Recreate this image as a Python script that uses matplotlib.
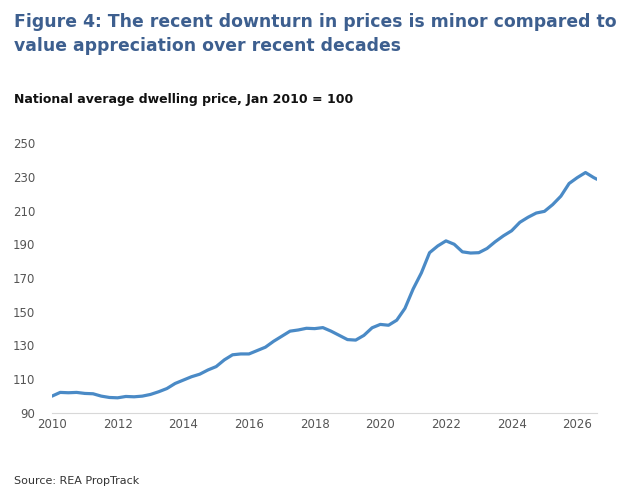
import matplotlib
matplotlib.use("Agg")
import matplotlib.pyplot as plt

years = [2010.0, 2010.25, 2010.5, 2010.75, 2011.0, 2011.25, 2011.5, 2011.75, 2012.0,
         2012.25, 2012.5, 2012.75, 2013.0, 2013.25, 2013.5, 2013.75, 2014.0,
         2014.25, 2014.5, 2014.75, 2015.0, 2015.25, 2015.5, 2015.75, 2016.0,
         2016.25, 2016.5, 2016.75, 2017.0, 2017.25, 2017.5, 2017.75, 2018.0,
         2018.25, 2018.5, 2018.75, 2019.0, 2019.25, 2019.5, 2019.75, 2020.0,
         2020.25, 2020.5, 2020.75, 2021.0, 2021.25, 2021.5, 2021.75, 2022.0,
         2022.25, 2022.5, 2022.75, 2023.0, 2023.25, 2023.5, 2023.75, 2024.0,
         2024.25, 2024.5, 2024.75, 2025.0, 2025.25, 2025.5, 2025.75, 2026.0,
         2026.25, 2026.5, 2026.6]
index = [100.0, 102.2, 102.0, 102.2, 101.6, 101.4, 100.0, 99.2, 99.0,
         99.8, 99.6, 100.0, 101.0, 102.6, 104.5, 107.5, 109.5,
         111.5, 113.0, 115.5, 117.5, 121.5, 124.5, 125.0, 125.0,
         127.0, 129.0, 132.5, 135.5, 138.5, 139.2, 140.2, 140.0,
         140.6, 138.5, 136.0, 133.5, 133.2, 136.0, 140.5, 142.5,
         142.0, 145.0, 152.0, 163.5, 173.0, 185.0, 189.0, 192.0,
         190.0, 185.5, 184.8, 185.0, 187.5, 191.5, 195.0, 198.0,
         203.0, 206.0, 208.5, 209.5, 213.5, 218.5, 226.0, 229.5,
         232.5, 229.5, 228.5]

title = "Figure 4: The recent downturn in prices is minor compared to\nvalue appreciation over recent decades"
subtitle = "National average dwelling price, Jan 2010 = 100"
source = "Source: REA PropTrack"

fig = plt.figure(figsize=(6.43, 5.0), dpi=100)
ax = fig.add_axes([52 / 643, 1 - 413 / 500, 545 / 643, 270 / 500])

ax.plot(years, index, color="#4a8ac6", lw=2.3, solid_capstyle="round")
ax.set_xlim(2010, 2026.6)
ax.set_ylim(90, 250)
ax.set_yticks(range(90, 251, 20))
ax.set_xticks(range(2010, 2027, 2))
for s in ["top", "right", "left"]:
    ax.spines[s].set_visible(False)
ax.spines["bottom"].set_color("#d8d8d8")
ax.tick_params(length=0, labelsize=8.5, labelcolor="#555555")
ax.tick_params(axis="y", pad=12)

fig.text(14 / 643, 1 - 13 / 500, title, fontsize=12.4, fontweight="bold",
         color="#3d5f8f", va="top", linespacing=1.45)
fig.text(14 / 643, 1 - 100 / 500, subtitle, fontsize=9, fontweight="bold",
         color="#111111", va="center")
fig.text(14 / 643, 1 - 481 / 500, source, fontsize=8, color="#333333", va="center")

fig.savefig("out.png", dpi=100)
